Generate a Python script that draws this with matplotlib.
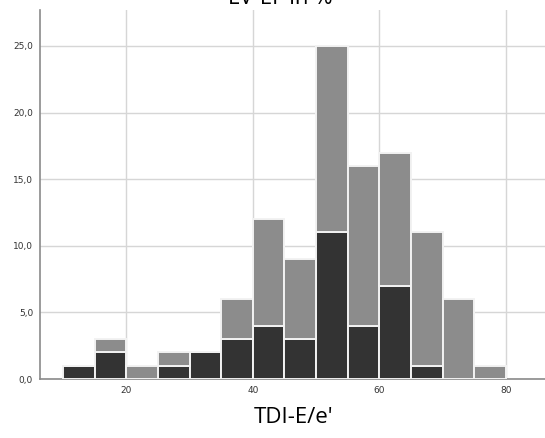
import numpy as np
import matplotlib
matplotlib.use("Agg")
import matplotlib.pyplot as plt
from matplotlib.ticker import FuncFormatter

# bin edges of TDI-E/e' (width 5)
bin_left = [10, 15, 20, 25, 30, 35, 40, 45, 50, 55, 60, 65, 70, 75]
# counts per bin: dark group at the bottom, grey group stacked on top
dark_counts = [1, 2, 0, 1, 2, 3, 4, 3, 11, 4, 7, 1, 0, 0]
total_counts = [1, 3, 1, 2, 2, 6, 12, 9, 25, 16, 17, 11, 6, 1]

x = np.array(bin_left) + 2.5
dark = np.array(dark_counts)
grey = np.array(total_counts) - dark

fig = plt.figure(figsize=(5.45, 4.38), dpi=100)
ax = fig.add_axes([0.0734, 0.1347, 0.93, 0.8425])

ax.bar(x, dark, width=5, color='#333333', edgecolor='#f2f2f2', linewidth=1.4, zorder=3)
ax.bar(x, grey, width=5, bottom=dark, color='#8c8c8c', edgecolor='#f2f2f2', linewidth=1.4, zorder=3)

ax.set_xlim(6.35, 86.5)
ax.set_ylim(0, 27.7)
ax.set_xticks([20, 40, 60, 80])
ax.set_yticks([0, 5, 10, 15, 20, 25])
ax.yaxis.set_major_formatter(FuncFormatter(lambda v, p: f"{v:.1f}".replace('.', ',')))
ax.tick_params(length=0, labelsize=6.5, colors='#333333', pad=5)
ax.grid(True, color='#d6d6d6', linewidth=1.0, zorder=0)

for side in ['top', 'right']:
    ax.spines[side].set_visible(False)
for side in ['left', 'bottom']:
    ax.spines[side].set_color('#8a8a8a')
    ax.spines[side].set_linewidth(1.2)

ax.set_xlabel("TDI-E/e'", fontsize=16, family='Open Sans', labelpad=9)
fig.text(0.515, 0.991, 'LV-EF in %', fontsize=16, family='Open Sans',
         ha='center', va='baseline')

fig.savefig('out.png', dpi=100)
